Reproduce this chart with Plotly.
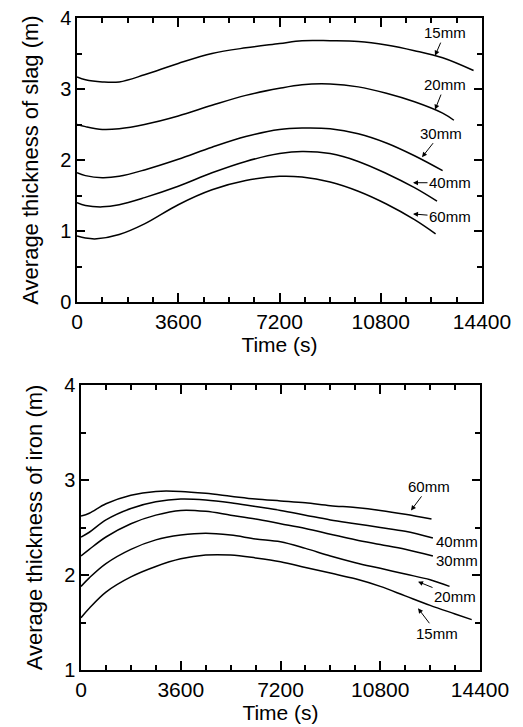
import plotly.graph_objects as go

# ---------------- data: slag thickness (top panel) ----------------
slag_t_15 = [0, 300, 900, 1500, 2400, 3600, 4800, 6000, 7200, 8000, 9000, 10000, 11000, 12000, 13000, 14100]
slag_15 = [3.17, 3.13, 3.10, 3.10, 3.20, 3.36, 3.50, 3.58, 3.64, 3.68, 3.68, 3.67, 3.62, 3.54, 3.44, 3.26]

slag_t_20 = [0, 300, 900, 1500, 2400, 3600, 4800, 6000, 7200, 8000, 9000, 10000, 11000, 12000, 13000, 13400]
slag_20 = [2.50, 2.47, 2.43, 2.44, 2.50, 2.62, 2.77, 2.91, 3.01, 3.06, 3.07, 3.03, 2.94, 2.82, 2.66, 2.56]

slag_t_30 = [0, 300, 900, 1500, 2400, 3600, 4800, 6000, 7200, 8000, 9000, 10000, 11000, 12000, 13000]
slag_30 = [1.82, 1.78, 1.75, 1.77, 1.86, 2.01, 2.18, 2.33, 2.43, 2.45, 2.44, 2.37, 2.24, 2.06, 1.85]

slag_t_40 = [0, 300, 900, 1500, 2400, 3600, 4800, 6000, 7200, 8000, 9000, 10000, 11000, 12000, 12800]
slag_40 = [1.40, 1.36, 1.34, 1.37, 1.47, 1.63, 1.82, 1.98, 2.09, 2.12, 2.09, 1.98, 1.81, 1.61, 1.42]

slag_t_60 = [0, 300, 700, 1500, 2400, 3600, 4800, 6000, 7200, 8000, 9000, 10000, 11000, 12000, 12750]
slag_60 = [0.93, 0.90, 0.89, 0.95, 1.10, 1.37, 1.58, 1.71, 1.77, 1.76, 1.69, 1.56, 1.38, 1.16, 0.96]

# ---------------- data: iron thickness (bottom panel) ----------------
iron_t_60 = [0, 300, 900, 1800, 2700, 3600, 4500, 5400, 6300, 7200, 8100, 9000, 9900, 10800, 11700, 12650]
iron_60 = [2.62, 2.65, 2.75, 2.84, 2.88, 2.88, 2.86, 2.83, 2.80, 2.78, 2.76, 2.73, 2.71, 2.68, 2.64, 2.59]

iron_t_40 = [0, 300, 900, 1800, 2700, 3600, 4500, 5400, 6300, 7200, 8100, 9000, 9900, 10800, 11700, 12700]
iron_40 = [2.40, 2.45, 2.58, 2.70, 2.77, 2.80, 2.79, 2.76, 2.72, 2.68, 2.63, 2.58, 2.54, 2.50, 2.46, 2.39]

iron_t_30 = [0, 300, 900, 1800, 2700, 3600, 4500, 5400, 6300, 7200, 8100, 9000, 9900, 10800, 11700, 12700]
iron_30 = [2.20, 2.27, 2.40, 2.54, 2.63, 2.68, 2.67, 2.63, 2.59, 2.54, 2.49, 2.43, 2.37, 2.32, 2.27, 2.20]

iron_t_20 = [0, 300, 900, 1800, 2700, 3600, 4500, 5400, 6300, 7200, 8100, 9000, 9900, 10800, 11700, 12600, 13300]
iron_20 = [1.88, 1.97, 2.12, 2.27, 2.37, 2.42, 2.44, 2.42, 2.38, 2.35, 2.28, 2.20, 2.13, 2.07, 2.01, 1.95, 1.88]

iron_t_15 = [0, 300, 900, 1800, 2700, 3600, 4500, 5400, 6300, 7200, 8100, 9000, 9900, 10800, 11700, 12600, 13500, 14100]
iron_15 = [1.55, 1.65, 1.82, 1.98, 2.09, 2.17, 2.21, 2.21, 2.18, 2.14, 2.08, 2.02, 1.96, 1.88, 1.78, 1.68, 1.59, 1.53]

x_ticks = [0, 3600, 7200, 10800, 14400]
x_tick_labels = ["0", "3600", "7200", "10800", "14400"]

FONT = "Liberation Sans, Arial, sans-serif"

fig = go.Figure()

slag = [(slag_t_15, slag_15, "15mm"), (slag_t_20, slag_20, "20mm"), (slag_t_30, slag_30, "30mm"),
        (slag_t_40, slag_40, "40mm"), (slag_t_60, slag_60, "60mm")]
iron = [(iron_t_60, iron_60, "60mm"), (iron_t_40, iron_40, "40mm"), (iron_t_30, iron_30, "30mm"),
        (iron_t_20, iron_20, "20mm"), (iron_t_15, iron_15, "15mm")]

for t, v, n in slag:
    fig.add_trace(go.Scatter(x=t, y=v, mode="lines", name=n, line=dict(color="black", width=1.5, shape="spline"),
                             xaxis="x", yaxis="y", showlegend=False))
for t, v, n in iron:
    fig.add_trace(go.Scatter(x=t, y=v, mode="lines", name=n, line=dict(color="black", width=1.5, shape="spline"),
                             xaxis="x2", yaxis="y2", showlegend=False))

# page body has an 8px margin, so the figure is drawn 8px in from the window's corner
OFF = 8
W, H = 523 - OFF, 727 - OFF

def px_x(p):
    return (p - OFF) / W

def px_y(p):
    return 1 - (p - OFF) / H

fig.update_layout(
    width=W, height=H, margin=dict(l=0, r=0, t=0, b=0),
    paper_bgcolor="white", plot_bgcolor="white", showlegend=False,
    font=dict(family=FONT, color="black"),
    xaxis=dict(domain=[px_x(77), px_x(482)], range=[0, 14400], anchor="y"),
    yaxis=dict(domain=[px_y(302), px_y(18)], range=[0, 4], anchor="x"),
    xaxis2=dict(domain=[px_x(81), px_x(480)], range=[0, 14400], anchor="y2"),
    yaxis2=dict(domain=[px_y(670), px_y(385)], range=[1, 4], anchor="x2"),
)

fig.update_xaxes(showline=True, linecolor="black", linewidth=1.5, mirror="ticks", automargin=False,
                 ticks="inside", ticklen=9, tickwidth=2, tickcolor="black",
                 showgrid=False, zeroline=False, ticklabeloverflow="allow",
                 tickvals=x_ticks, ticktext=x_tick_labels,
                 minor=dict(dtick=900, tick0=0, ticks="inside", ticklen=5, tickcolor="black", tickwidth=2),
                 tickfont=dict(family=FONT, size=21, color="black"),
                 title=dict(text="Time (s)", font=dict(family=FONT, size=21, color="black"), standoff=4))

fig.update_yaxes(showline=True, linecolor="black", linewidth=1.5, mirror="ticks", automargin=False,
                 ticks="inside", ticklen=8, tickwidth=2, tickcolor="black",
                 showgrid=False, zeroline=False, ticklabeloverflow="allow", dtick=1,
                 minor=dict(dtick=0.5, ticks="inside", ticklen=5, tickcolor="black", tickwidth=2),
                 tickfont=dict(family=FONT, size=20, color="black"),
                 title_font=dict(family=FONT, size=22, color="black"))
fig.update_layout(yaxis_title_text="Average thickness of slag (m)", yaxis2_title_text="Average thickness of iron (m)")

ann_font = dict(family=FONT, size=15, color="black")

def arrow_ann(xref, yref, x, y, text, ax, ay):
    return dict(xref=xref, yref=yref, x=x, y=y, text=text, showarrow=True, ax=ax, ay=ay,
                arrowhead=2, arrowsize=1, arrowwidth=1, arrowcolor="black", font=ann_font, standoff=0)

def text_ann(xref, yref, x, y, text):
    return dict(xref=xref, yref=yref, x=x, y=y, text=text, showarrow=False, font=ann_font)

annotations = [
    arrow_ann("x", "y", 12730, 3.47, "15mm", 10, -23),
    arrow_ann("x", "y", 12730, 2.71, "20mm", 10, -25),
    arrow_ann("x", "y", 12267, 2.04, "30mm", 19, -24),
    arrow_ann("x", "y", 11947, 1.68, "40mm", 37, 0),
    arrow_ann("x", "y", 11947, 1.24, "60mm", 37, 3),
    arrow_ann("x2", "y2", 11910, 2.68, "60mm", 18, -24),
    text_ann("x2", "y2", 13570, 2.35, "40mm"),
    text_ann("x2", "y2", 13570, 2.15, "30mm"),
    arrow_ann("x2", "y2", 12163, 1.93, "20mm", 37, 15),
    arrow_ann("x2", "y2", 12163, 1.65, "15mm", 19, 25),
]
fig.update_layout(annotations=annotations)

fig.write_html("out.html")
